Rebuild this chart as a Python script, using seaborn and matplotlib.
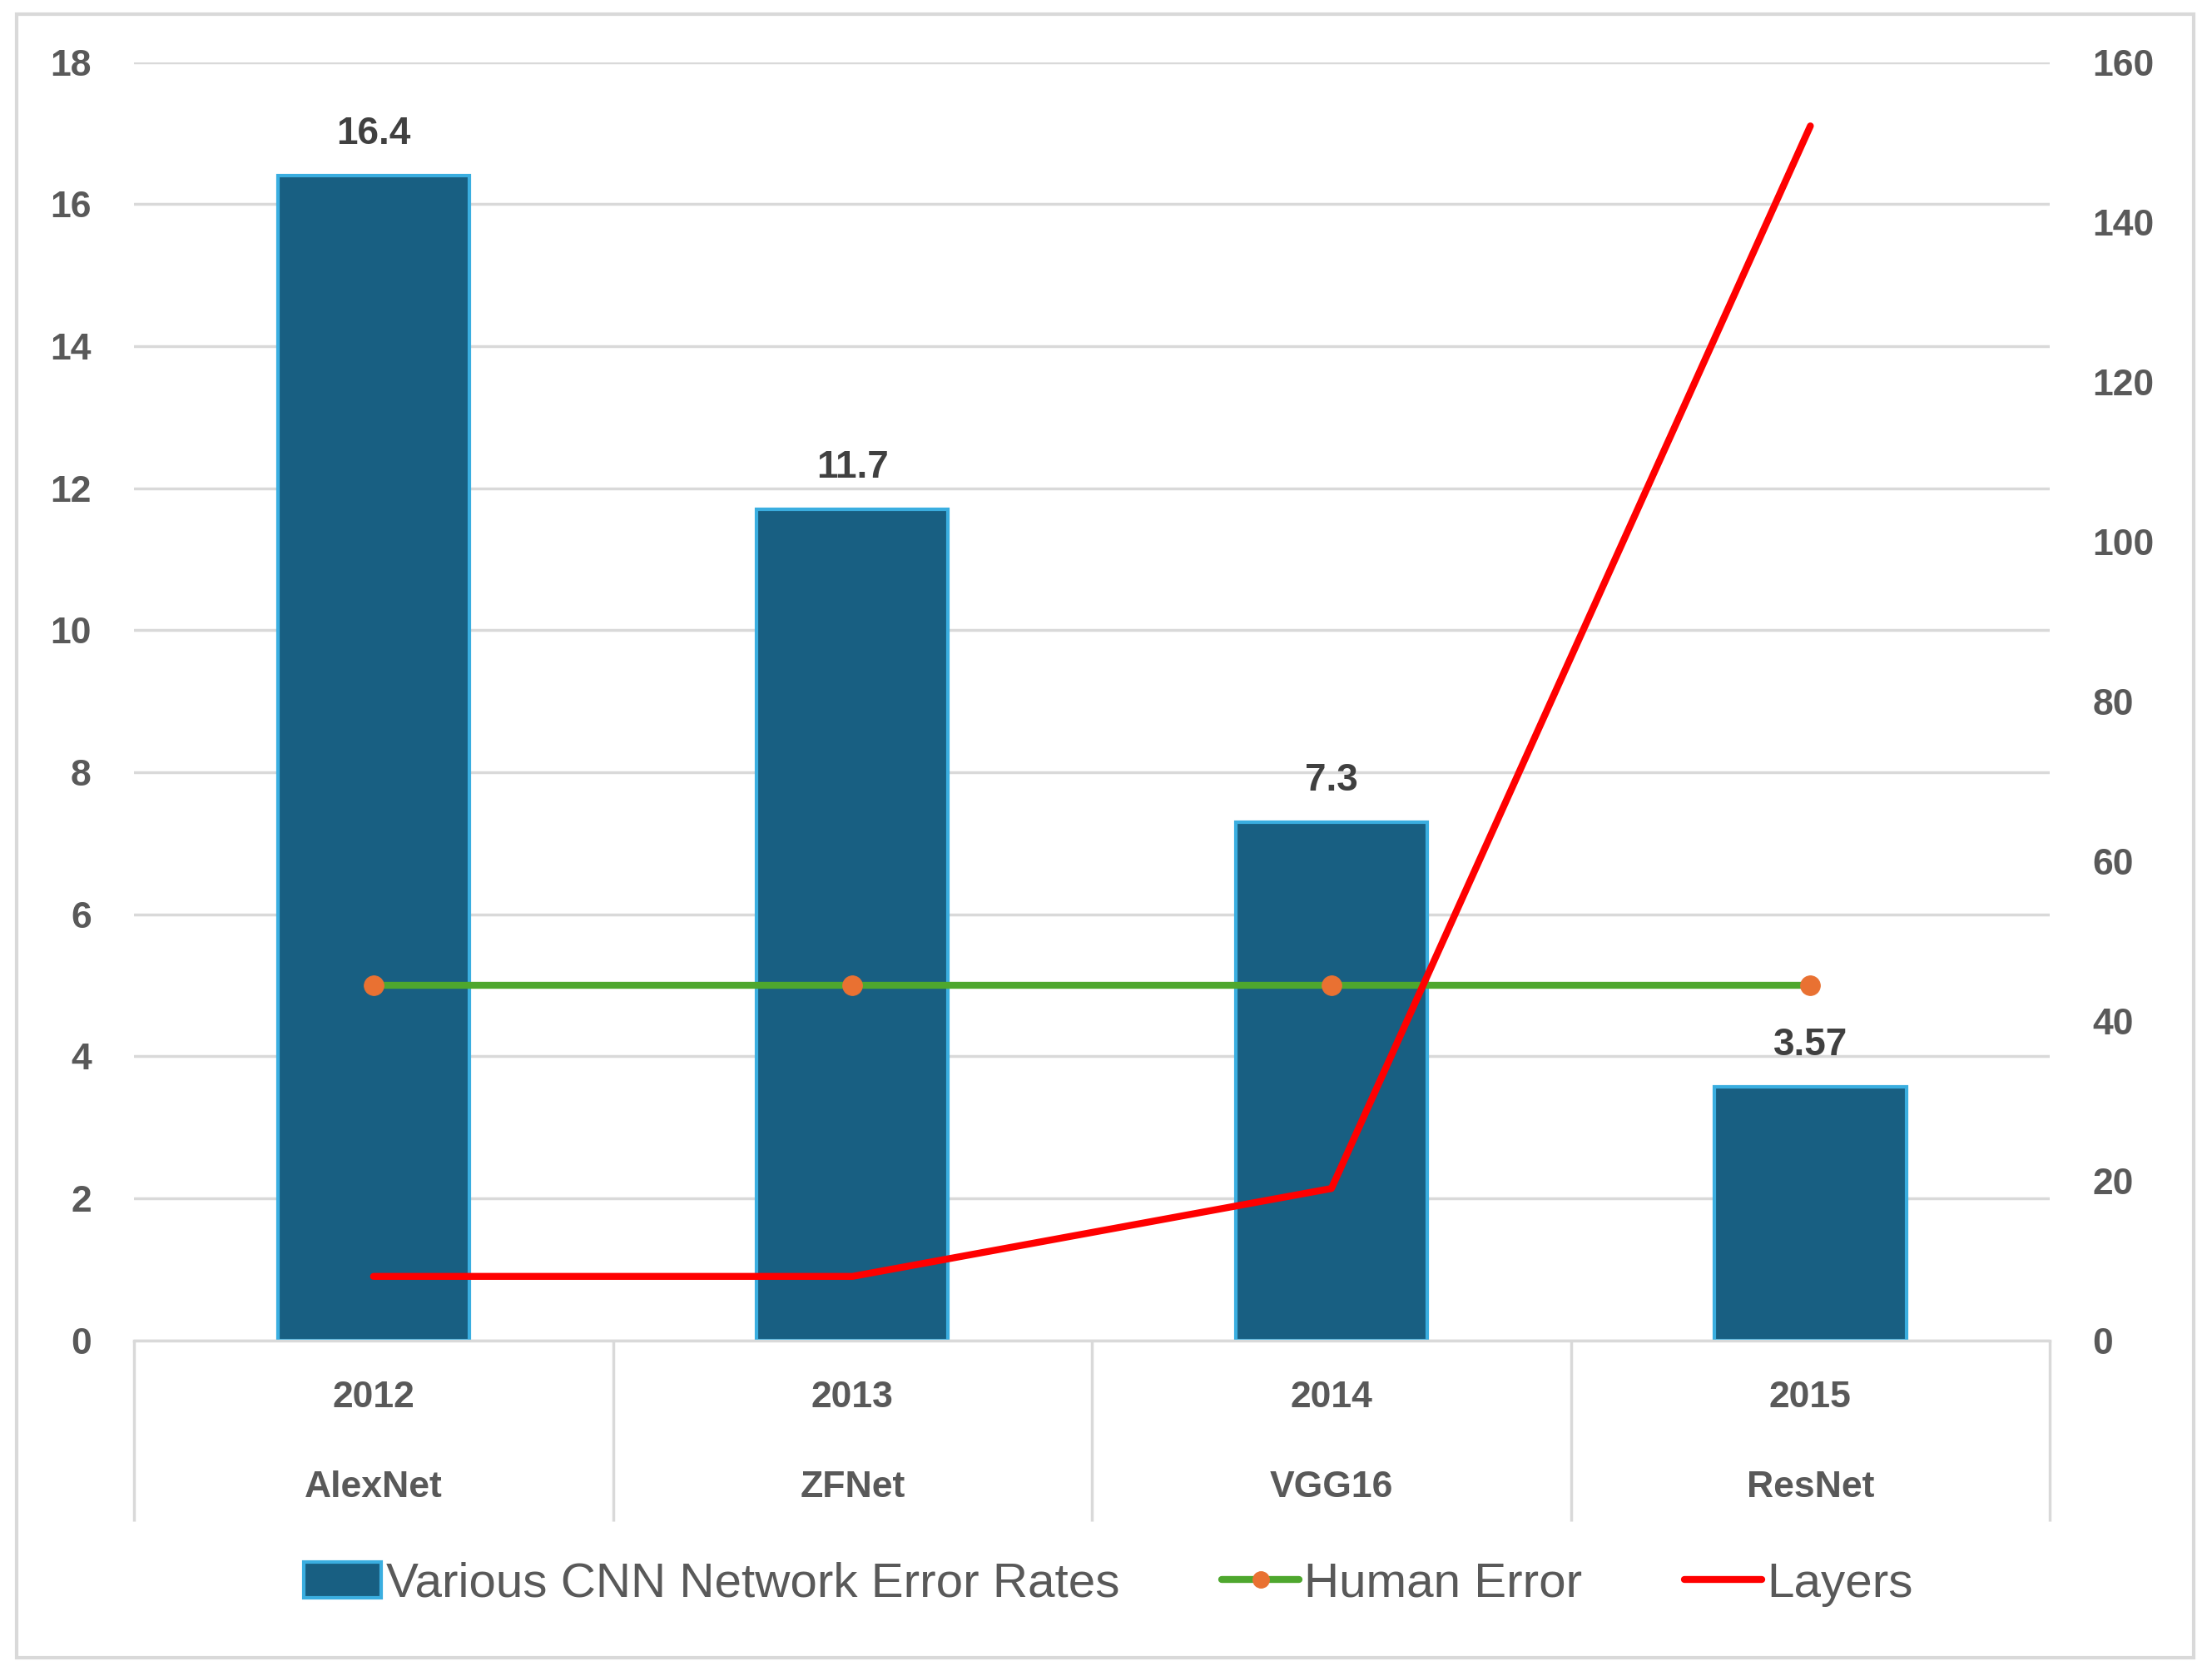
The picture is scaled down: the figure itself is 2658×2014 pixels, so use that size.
import numpy as np
import pandas as pd
import matplotlib.pyplot as plt
from matplotlib.patches import Rectangle, Patch
from matplotlib.lines import Line2D
import seaborn as sns

# data
years = ['2012', '2013', '2014', '2015']
networks = ['AlexNet', 'ZFNet', 'VGG16', 'ResNet']
error_rates = [16.4, 11.7, 7.3, 3.57]
error_labels = ['16.4', '11.7', '7.3', '3.57']
human_error = [5, 5, 5, 5]
layers = [8, 8, 19, 152]

# colors
c_bar = '#185F82'
c_edge = '#3AAEE0'
c_green = '#4EA72E'
c_orange = '#E97132'
c_red = '#FF0000'
c_grid = '#D9D9D9'
c_text = '#595959'
c_label = '#404040'

pos = np.arange(len(years))
df = pd.DataFrame({'pos': pos, 'error': error_rates, 'human': human_error, 'layers': layers})

sns.set_theme(style='white')
plt.rcParams['font.family'] = ['Liberation Sans Narrow', 'Liberation Sans', 'DejaVu Sans']

fig = plt.figure(figsize=(26.58, 20.14), dpi=100)
ax = fig.add_axes([0.0606, 0.2003, 0.8661, 0.7627])
ax2 = ax.twinx()

sns.barplot(data=df, x='pos', y='error', ax=ax, width=0.4, color=c_bar, saturation=1,
            edgecolor=c_edge, linewidth=3, errorbar=None)
sns.lineplot(data=df, x='pos', y='human', ax=ax, color=c_green, lw=6, marker='o',
             markersize=17, markerfacecolor=c_orange, markeredgecolor=c_orange)
sns.lineplot(data=df, x='pos', y='layers', ax=ax2, color=c_red, lw=6)

ax.bar_label(ax.containers[0], labels=error_labels, padding=20, fontsize=33,
             fontweight='bold', color=c_label)

# left axis
ax.set_ylim(0, 18)
ax.set_yticks(range(0, 19, 2))
ax.yaxis.grid(True, color=c_grid, lw=2.5)
ax.set_axisbelow(True)
ax.set_xlim(-0.5, 3.5)
ax.set_xlabel('')
ax.set_ylabel('')

# right axis
ax2.set_ylim(0, 160)
ax2.set_yticks(range(0, 161, 20))
ax2.set_ylabel('')
ax2.grid(False)

for a in (ax, ax2):
    for s in a.spines.values():
        s.set_visible(False)
    a.tick_params(axis='y', length=0, pad=37, labelsize=32, labelcolor=c_text)
    for t in a.get_yticklabels():
        t.set_fontweight('bold')
ax.spines['bottom'].set_visible(True)
ax.spines['bottom'].set_color(c_grid)
ax.spines['bottom'].set_linewidth(2.5)

# two-level category axis
ax.set_xticks(pos)
ax.set_xticklabels([f'{y}\n{n}' for y, n in zip(years, networks)], linespacing=3.1,
                   fontsize=32, fontweight='bold', color=c_text)
ax.set_xticks(np.arange(-0.5, len(years)), minor=True)
ax.tick_params(axis='x', which='major', bottom=True, length=0, pad=35)
ax.tick_params(axis='x', which='minor', bottom=True, length=156, width=2.5,
               color=c_grid, direction='out')

handles = [
    Patch(facecolor=c_bar, edgecolor=c_edge, lw=3),
    Line2D([], [], color=c_green, lw=6, marker='o', markersize=14,
           markerfacecolor=c_orange, markeredgecolor=c_orange),
    Line2D([], [], color=c_red, lw=6),
]
fig.legend(handles, ['Various CNN Network Error Rates', 'Human Error', 'Layers'],
           loc='center', bbox_to_anchor=(0.501, 0.0547), ncol=3, frameon=False,
           fontsize=42, labelcolor=c_text, handlelength=1.6, handleheight=0.75,
           handletextpad=0.1, columnspacing=2.1)

fig.add_artist(Rectangle((0.0077, 0.011), 0.984, 0.9806, transform=fig.transFigure,
                         fill=False, edgecolor=c_grid, lw=3))

fig.savefig('out.png', dpi=100)
